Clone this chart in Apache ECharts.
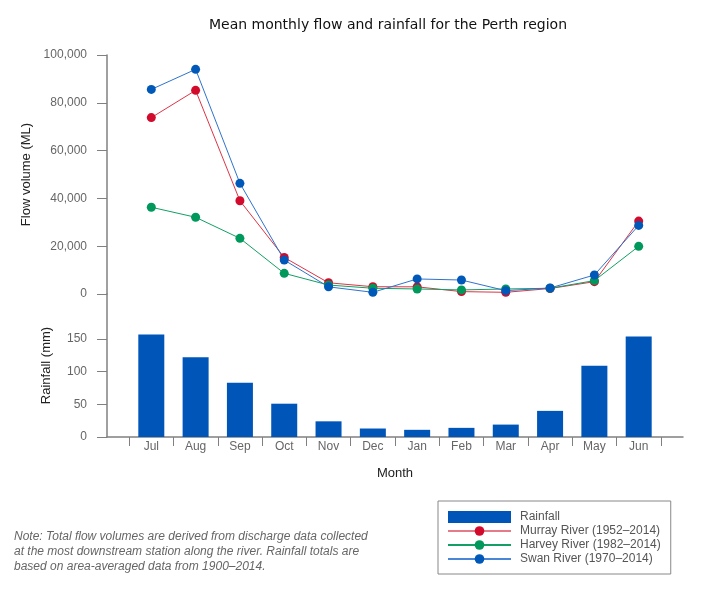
<!DOCTYPE html>
<html>
<head>
<meta charset="utf-8">
<script src="https://cdn.jsdelivr.net/npm/echarts@6/dist/echarts.min.js"></script>
<style>
html,body{margin:0;padding:0;background:#fff;}
#chart{width:710px;height:592px;}
</style>
</head>
<body>
<div id="chart"></div>
<script>
// ---- data ----
const months = ['Jul','Aug','Sep','Oct','Nov','Dec','Jan','Feb','Mar','Apr','May','Jun'];
const rainfall = [157, 122, 83, 51, 24, 13, 11, 14, 19, 40, 109, 154];
const murray = [73800, 85200, 39000, 15300, 4700, 3050, 3000, 1000, 700, 2300, 5150, 30500];
const harvey = [36300, 32100, 23300, 8650, 3750, 2400, 2100, 1700, 2100, 2400, 5600, 19950];
const swan   = [85600, 94000, 46300, 14200, 3000, 700, 6300, 5850, 1400, 2500, 7950, 28700];
const flowTicks = [0, 20000, 40000, 60000, 80000, 100000];
const rainTicks = [0, 50, 100, 150];

const seriesNames = {
  rain: 'Rainfall',
  murray: 'Murray River (1952\u20132014)',
  harvey: 'Harvey River (1982\u20132014)',
  swan: 'Swan River (1970\u20132014)'
};
const noteText = 'Note: Total flow volumes are derived from discharge data collected\nat the most downstream station along the river. Rainfall totals are\nbased on area-averaged data from 1900\u20132014.';

// ---- helpers ----
const pairs = arr => arr.map((v, i) => [i, v]);
const catIdx = months.map((m, i) => i);
const boundaries = months.map((m, i) => i - 0.5).concat([months.length - 0.5]);

const FONT = 'Liberation Sans, Arial, sans-serif';
const axisGray = '#808080';
const labelGray = '#666666';

const chart = echarts.init(document.getElementById('chart'));
const option = {
  animation: false,
  textStyle: { fontFamily: FONT },
  title: [
    {
      text: 'Mean monthly flow and rainfall for the Perth region',
      left: 388, top: 18, textAlign: 'center', padding: 0,
      textStyle: { fontFamily: 'DejaVu Sans', fontSize: 14, fontWeight: 'normal', color: '#111', lineHeight: 14 }
    },
    {
      text: noteText,
      left: 14, top: 529, padding: 0,
      textStyle: { fontFamily: FONT, fontSize: 12, fontStyle: 'italic', fontWeight: 'normal', color: '#666', lineHeight: 15 }
    }
  ],
  legend: {
    orient: 'vertical',
    left: 438, top: 501,
    padding: [10, 10, 9, 9],
    itemGap: 2,
    itemWidth: 63,
    itemHeight: 12,
    borderColor: '#888',
    borderWidth: 1,
    textStyle: { fontFamily: FONT, fontSize: 12, color: '#555', padding: [0, 0, 0, 4] },
    data: [
      { name: seriesNames.rain, icon: 'rect' },
      { name: seriesNames.murray, lineStyle: { color: '#e57a88', width: 2 } },
      { name: seriesNames.harvey, lineStyle: { color: '#14a064', width: 2 } },
      { name: seriesNames.swan, lineStyle: { color: '#4a86d6', width: 2 } }
    ]
  },
  grid: [
    { left: 107, right: 27, top: 55, height: 239 },
    { left: 107, right: 27, top: 294, height: 143 }
  ],
  xAxis: [
    {
      gridIndex: 0, type: 'value', min: -1, max: 12,
      show: false
    },
    {
      gridIndex: 1, type: 'value', min: -1, max: 12,
      name: 'Month', nameLocation: 'middle', nameGap: 30,
      nameTextStyle: { fontFamily: FONT, fontSize: 13, color: '#222' },
      axisLine: { show: true, onZero: false, lineStyle: { color: axisGray, width: 1.5 } },
      axisTick: { show: true, length: 9, lineStyle: { color: axisGray }, customValues: boundaries },
      axisLabel: {
        show: true, margin: 4, color: labelGray, fontSize: 12, fontFamily: FONT,
        customValues: catIdx,
        formatter: v => months[Math.round(v)] || ''
      },
      splitLine: { show: false }
    }
  ],
  yAxis: [
    {
      gridIndex: 0, type: 'value', min: 0, max: 100000, interval: 20000,
      name: 'Flow volume (ML)', nameLocation: 'middle', nameGap: 72,
      nameTextStyle: { fontFamily: FONT, fontSize: 13, color: '#222' },
      axisLine: { show: true, onZero: false, lineStyle: { color: axisGray, width: 1.5 } },
      axisTick: { show: true, length: 10, lineStyle: { color: axisGray }, customValues: flowTicks },
      axisLabel: {
        margin: 20, color: labelGray, fontSize: 12, fontFamily: FONT,
        customValues: flowTicks,
        formatter: v => Number(v).toLocaleString('en-US')
      },
      splitLine: { show: false }
    },
    {
      gridIndex: 1, type: 'value', min: 0, max: 219,
      name: 'Rainfall (mm)', nameLocation: 'middle', nameGap: 54,
      nameTextStyle: { fontFamily: FONT, fontSize: 13, color: '#222' },
      axisLine: { show: true, onZero: false, lineStyle: { color: axisGray, width: 1.5 } },
      axisTick: { show: true, length: 10, lineStyle: { color: axisGray }, customValues: rainTicks },
      axisLabel: {
        margin: 20, color: labelGray, fontSize: 12, fontFamily: FONT,
        customValues: rainTicks
      },
      splitLine: { show: false }
    }
  ],
  series: [
    {
      name: seriesNames.rain, type: 'bar', xAxisIndex: 1, yAxisIndex: 1,
      data: pairs(rainfall), barWidth: 26,
      itemStyle: { color: '#0055b8' }
    },
    {
      name: seriesNames.murray, type: 'line', xAxisIndex: 0, yAxisIndex: 0,
      data: pairs(murray), symbol: 'circle', symbolSize: 9,
      itemStyle: { color: '#d20a2c' },
      lineStyle: { color: '#dc3546', width: 1 }
    },
    {
      name: seriesNames.harvey, type: 'line', xAxisIndex: 0, yAxisIndex: 0,
      data: pairs(harvey), symbol: 'circle', symbolSize: 9,
      itemStyle: { color: '#00985b' },
      lineStyle: { color: '#10a062', width: 1 }
    },
    {
      name: seriesNames.swan, type: 'line', xAxisIndex: 0, yAxisIndex: 0,
      data: pairs(swan), symbol: 'circle', symbolSize: 9,
      itemStyle: { color: '#0058b8' },
      lineStyle: { color: '#2f73cc', width: 1 }
    }
  ]
};
chart.setOption(option);
</script>
</body>
</html>
